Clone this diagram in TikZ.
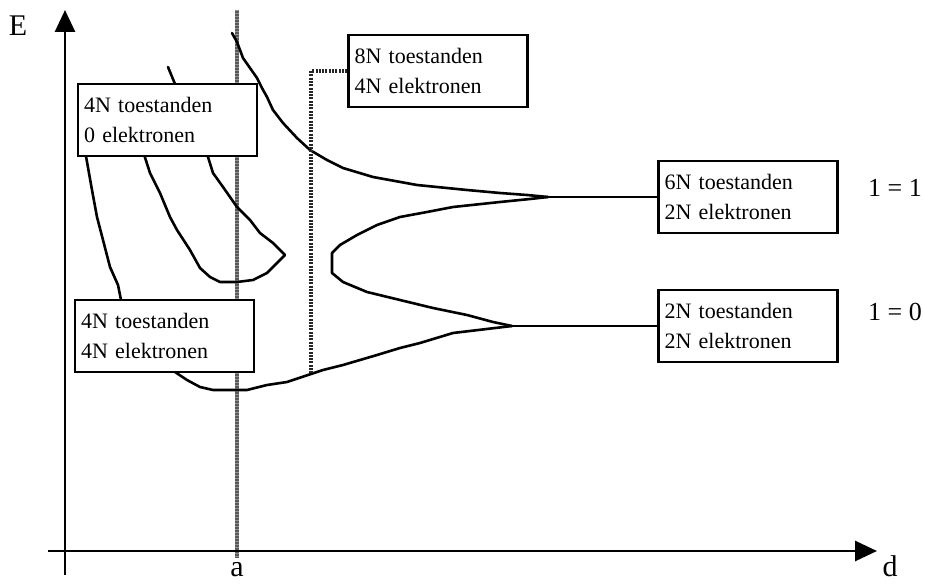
\documentclass[tikz,border=0pt]{standalone}
\usepackage{fontspec}
\setmainfont{Liberation Serif}
\usetikzlibrary{arrows.meta}
\begin{document}
\begin{tikzpicture}[x=1pt,y=-1pt,
  statebox/.style={draw, line width=2.5pt, fill=white, align=left,
    font=\fontsize{22}{30}\selectfont, text width=167pt,
    inner xsep=6pt, inner ysep=0pt, minimum height=72pt},
  band/.style={line width=2.6pt, line join=round, line cap=round},
  axis/.style={line width=2.8pt, -{Triangle[length=22pt,width=20pt]}},
  lbl/.style={font=\fontsize{26}{30}\selectfont},
  axlbl/.style={font=\fontsize{30}{34}\selectfont},
  hatch/.style={line width=4pt, draw=black!85, dash pattern=on 2pt off 1.3pt},
  latticeline/.style={line width=4.5pt, draw=black!65}]
\useasboundingbox (0,0) rectangle (925,585);

% equilibrium lattice distance
\draw[latticeline] (237,10) -- (237,558);
\draw[line width=4.5pt, white, dash pattern=on 0.8pt off 2.2pt, opacity=0.35] (237,10) -- (237,558);

% axes
\coordinate (yfoot) at (65,575);
\coordinate (ytip) at (65,10);
\coordinate (xfoot) at (48,551);
\coordinate (xtip) at (877,551);
\draw[axis] (yfoot) -- (ytip);
\draw[axis] (xfoot) -- (xtip);
\node[axlbl] (E) at (18,26) {E};
\node[axlbl] (d) at (890,566) {d};
\node[axlbl] (a) at (237,570) {a};

% junctions of the bands
\coordinate (pj) at (548,197);
\coordinate (sj) at (512,326);
\coordinate (lowmeet) at (311,374);

% l = 1 band, upper edge
\draw[band] (232,33) -- (237,42) -- (243,58) -- (250,68) -- (257,78) -- (262,88)
  -- (267,97) -- (273,110) -- (283,123) -- (297,138) -- (310,150) -- (327,160)
  -- (343,168) -- (373,177) -- (417,185) -- (467,190) -- (500,193) -- (527,195)
  -- (pj);
% l = 1 lower edge turning into l = 0 upper edge
\draw[band] (pj) -- (530,199) -- (500,202) -- (453,207) -- (427,212) -- (400,217)
  -- (377,225) -- (357,235) -- (340,245) -- (332,253) -- (332,273) -- (343,282)
  -- (367,292) -- (400,300) -- (433,308) -- (467,315) -- (493,322) -- (sj);
% l = 0 lower edge, bonding band bottom
\draw[band] (sj) -- (453,333) -- (420,343) -- (400,348) -- (377,355) -- (343,365)
  -- (323,370) -- (lowmeet) -- (287,382) -- (267,385) -- (247,390) -- (237,390)
  -- (213,390) -- (200,387) -- (187,380) -- (175,372) -- (168,362);
% bonding band, left edge
\draw[band] (84,145) -- (92,190) -- (97,217) -- (103,240) -- (110,267)
  -- (118,285) -- (122,305);
% antibonding band
\draw[band] (141,145) -- (150,173) -- (160,193) -- (170,217) -- (177,230)
  -- (190,250) -- (200,268) -- (210,277) -- (220,282) -- (237,282) -- (253,280)
  -- (267,273) -- (277,263) -- (285,255);
\draw[band] (168,67) -- (175,84) -- (192,120) -- (208,157) -- (213,173)
  -- (223,187) -- (237,207) -- (250,220) -- (260,233) -- (273,243) -- (285,255);

% state boxes
\node[statebox] (anti) at (167.5,120) {4N toestanden\\0 elektronen};
\node[statebox] (hyb) at (438,71) {8N toestanden\\4N elektronen};
\node[statebox] (bond) at (164.5,336) {4N toestanden\\4N elektronen};
\node[statebox] (pstate) at (748,197) {6N toestanden\\2N elektronen};
\node[statebox] (sstate) at (748,326) {2N toestanden\\2N elektronen};

% connectors
\draw[hatch] (hyb.west) -- (hyb.west -| lowmeet) -- (lowmeet);
\draw[band] (pj) -- (pstate.west);
\draw[band] (sj) -- (sstate.west);

% quantum numbers
\node[lbl] (l1) at (895,188) {1 = 1};
\node[lbl] (l0) at (895,312) {1 = 0};
\end{tikzpicture}
\end{document}
